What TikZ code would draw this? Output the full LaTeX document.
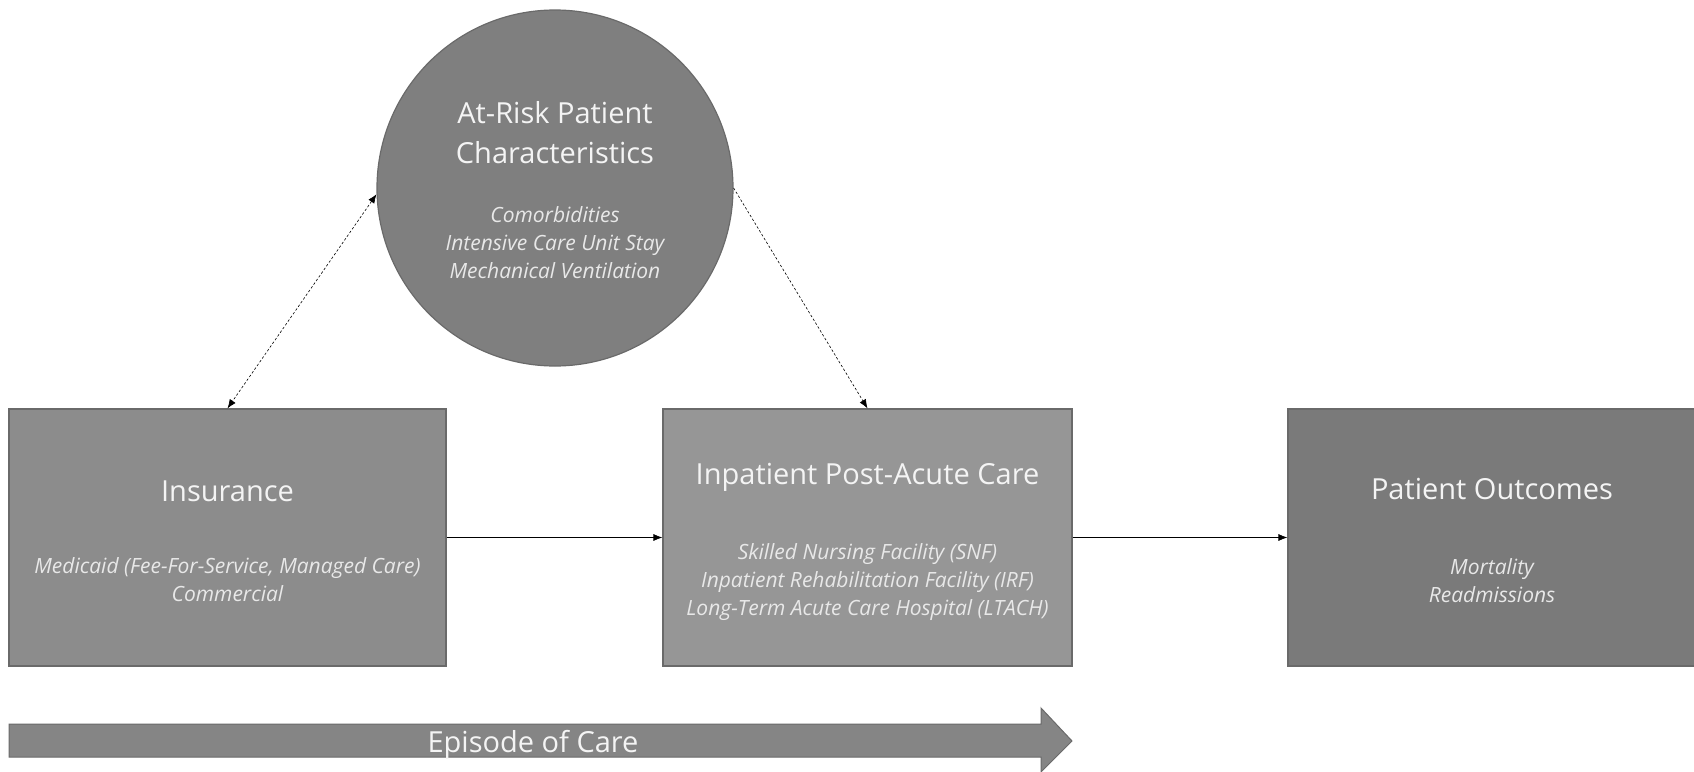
\documentclass[tikz,border=0pt]{standalone}
\usepackage{fontspec}
\setmainfont{Open Sans}
\usetikzlibrary{arrows.meta}
\definecolor{insfill}{HTML}{8C8C8C}
\definecolor{inpfill}{HTML}{969696}
\definecolor{outfill}{HTML}{7A7A7A}
\definecolor{circfill}{HTML}{7F7F7F}
\definecolor{arrfill}{HTML}{858585}
\definecolor{edge}{HTML}{6A6A6A}
\definecolor{titlecol}{HTML}{F4F4F4}
\definecolor{subcol}{HTML}{E8E8E8}
\begin{document}
\begin{tikzpicture}[x=1pt,y=-1pt,
  box/.style={draw=edge, line width=1.2pt, rectangle, inner sep=0pt},
  ttl/.style={text=titlecol, inner sep=0pt, align=center, font=\fontsize{29}{40}\selectfont},
  sub/.style={text=subcol, inner sep=0pt, align=center, font=\fontsize{21}{28}\selectfont\itshape},
  conn/.style={line width=0.7pt, -{Latex[length=9pt,width=7pt]}},
  dconn/.style={line width=0.6pt, dash pattern=on 2.5pt off 2pt, {Latex[length=9pt,width=7pt]}-{Latex[length=9pt,width=7pt]}},
  dconnr/.style={line width=0.6pt, dash pattern=on 2.5pt off 2pt, -{Latex[length=9pt,width=7pt]}}
]
\useasboundingbox (0,0) rectangle (1694,771);

% boxes
\node[box, fill=insfill, minimum width=437pt, minimum height=257pt] (ins) at (227.5,537.5) {};
\node[box, fill=inpfill, minimum width=409pt, minimum height=257pt] (inp) at (867.5,537.5) {};
\node[box, fill=outfill, minimum width=408pt, minimum height=257pt] (out) at (1492,537.5) {};
\node[circle, draw=edge, line width=1.2pt, fill=circfill, minimum size=356pt, inner sep=0pt] (circ) at (555,188) {};

% texts
\node[ttl] (ctitle) at (555,133) {At-Risk Patient\\Characteristics};
\node[sub] (csub) at (555,242.5) {Comorbidities\\Intensive Care Unit Stay\\Mechanical Ventilation};
\node[ttl] (institle) at (227.5,491) {Insurance};
\node[sub] (inssub) at (227.5,580) {Medicaid (Fee-For-Service, Managed Care)\\Commercial};
\node[ttl] (inptitle) at (867.5,477) {Inpatient Post-Acute Care};
\node[sub] (inpsub) at (867.5,582) {Skilled Nursing Facility (SNF)\\Inpatient Rehabilitation Facility (IRF)\\Long-Term Acute Care Hospital (LTACH)};
\node[ttl] (outtitle) at (1492,489) {Patient Outcomes};
\node[sub] (outsub) at (1492,581) {Mortality\\Readmissions};

% connectors
\draw[conn] (ins.east) -- (inp.west);
\draw[conn] (inp.east) -- (out.west);
\draw[dconn] (circ.182) -- (ins.north);
\draw[dconnr] (circ.0) -- (inp.north);

% episode arrow
\draw[draw=edge, line width=1pt, fill=arrfill]
  (9,724) -- (1041,724) -- (1041,708) -- (1072,741) -- (1041,772) -- (1041,757) -- (9,757) -- cycle;
\node[ttl] (episode) at (533,745) {Episode of Care};
\end{tikzpicture}
\end{document}
